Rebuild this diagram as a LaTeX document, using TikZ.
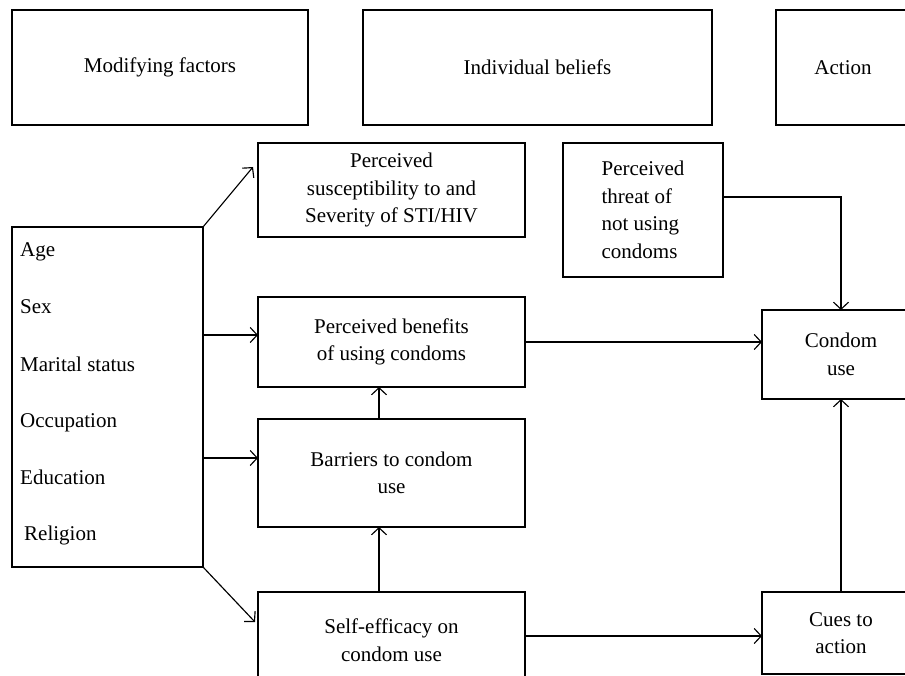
\documentclass[tikz,border=0pt]{standalone}
\usepackage{fontspec}
\setmainfont{Liberation Serif}
\usetikzlibrary{arrows.meta,calc}
\begin{document}
\begin{tikzpicture}[x=1pt,y=-1pt,
  box/.style={draw, line width=1.15pt, inner sep=0pt, outer sep=0pt, font=\fontsize{21}{27.5}\selectfont, align=center},
  arr/.style={line width=1.15pt, -{Straight Barb[length=7pt,width=15pt,line width=1.15pt]}},
  item/.style={anchor=base west, inner sep=0pt, font=\fontsize{21}{27.5}\selectfont}]
\useasboundingbox (0,0) rectangle (905,676);
% header boxes
\node[box, minimum width=296pt, minimum height=115pt] (mf) at (160,67.5) {Modifying factors};
\node[box, minimum width=349pt, minimum height=115pt] (ib) at (537.5,67.5) {Individual beliefs};
\node[box, minimum width=134pt, minimum height=115pt] (act) at (843,67.5) {Action};
% left box
\node[box, minimum width=191pt, minimum height=340pt] (lb) at (107.5,397) {};
\node[item] (i1) at (20,257) {Age};
\node[item] (i2) at (20,314) {Sex};
\node[item] (i3) at (20,371) {Marital status};
\node[item] (i4) at (20,427) {Occupation};
\node[item] (i5) at (20,484) {Education};
\node[item] (i6) at (24,540) {Religion};
% belief boxes
\node[box, minimum width=267pt, minimum height=94pt] (sus) at (391.5,190) {Perceived\\susceptibility to and\\Severity of STI/HIV};
\node[box, minimum width=160pt, minimum height=134pt, align=left] (thr) at (643,210) {Perceived\\threat of\\not using\\condoms};
\node[box, minimum width=267pt, minimum height=90pt] (ben) at (391.5,342) {Perceived benefits\\of using condoms};
\node[box, minimum width=267pt, minimum height=108pt] (bar) at (391.5,473) {Barriers to condom\\use};
\node[box, minimum width=267pt, minimum height=96pt] (self) at (391.5,640) {Self-efficacy on\\condom use};
% action boxes
\node[box, minimum width=158pt, minimum height=89pt] (cu) at (841,354.5) {Condom\\use};
\node[box, minimum width=158pt, minimum height=82pt] (cues) at (841,633) {Cues to\\action};
% connectors
\coordinate (tSus) at ([xshift=-5pt,yshift=23pt]sus.west);
\draw[arr] (lb.north east) -- (tSus);
\coordinate (tBen) at ([yshift=7pt]ben.west);
\draw[arr] (lb.east |- tBen) -- (tBen);
\coordinate (tBar) at ([yshift=15pt]bar.west);
\draw[arr] (lb.east |- tBar) -- (tBar);
\coordinate (tSelf) at ([xshift=-3pt,yshift=18pt]self.west);
\draw[arr] (lb.south east) -- (tSelf);
\coordinate (bx) at ([xshift=-12.5pt]bar.north);
\draw[arr] (bx) -- (bx |- ben.south);
\coordinate (sx) at ([xshift=-12.5pt]self.north);
\draw[arr] (sx) -- (sx |- bar.south);
\draw[arr] (ben.east) -- (ben.east -| cu.west);
\coordinate (se) at ([yshift=4pt]self.east);
\draw[arr] (se) -- (se -| cues.west);
\draw[arr] (cues.north) -- (cues.north |- cu.south);
\coordinate (te) at ([yshift=13pt]thr.east);
\draw[arr] (te) -| (cu.north);
\end{tikzpicture}
\end{document}
